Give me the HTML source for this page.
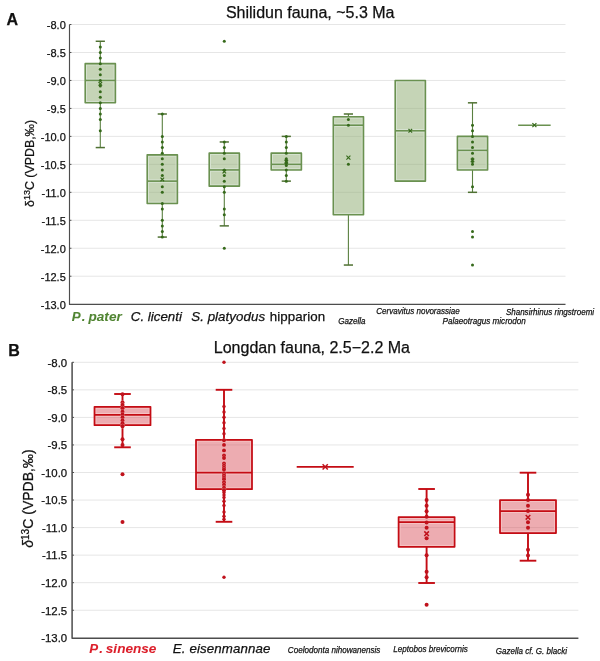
<!DOCTYPE html>
<html><head><meta charset="utf-8"><title>Carbon isotope box plots</title>
<style>
html,body{margin:0;padding:0;background:#fff;}
body{width:600px;height:661px;overflow:hidden;}
svg{display:block;font-family:"Liberation Sans",Arial,sans-serif;will-change:transform;}
</style></head>
<body>
<svg width="600" height="661" viewBox="0 0 600 661">
<rect width="600" height="661" fill="#fff"/>
<line x1="72" y1="24.5" x2="565.5" y2="24.5" stroke="#e6e6e6" stroke-width="1"/>
<line x1="72" y1="52.47" x2="565.5" y2="52.47" stroke="#e6e6e6" stroke-width="1"/>
<line x1="72" y1="80.44" x2="565.5" y2="80.44" stroke="#e6e6e6" stroke-width="1"/>
<line x1="72" y1="108.41" x2="565.5" y2="108.41" stroke="#e6e6e6" stroke-width="1"/>
<line x1="72" y1="136.38" x2="565.5" y2="136.38" stroke="#e6e6e6" stroke-width="1"/>
<line x1="72" y1="164.35" x2="565.5" y2="164.35" stroke="#e6e6e6" stroke-width="1"/>
<line x1="72" y1="192.32" x2="565.5" y2="192.32" stroke="#e6e6e6" stroke-width="1"/>
<line x1="72" y1="220.29" x2="565.5" y2="220.29" stroke="#e6e6e6" stroke-width="1"/>
<line x1="72" y1="248.26" x2="565.5" y2="248.26" stroke="#e6e6e6" stroke-width="1"/>
<line x1="72" y1="276.23" x2="565.5" y2="276.23" stroke="#e6e6e6" stroke-width="1"/>
<line x1="100.3" y1="41.28" x2="100.3" y2="63.66" stroke="#5a8040" stroke-width="1.1"/>
<line x1="95.7" y1="41.28" x2="104.9" y2="41.28" stroke="#4f7132" stroke-width="1.5"/>
<line x1="100.3" y1="102.82" x2="100.3" y2="147.57" stroke="#5a8040" stroke-width="1.1"/>
<line x1="95.7" y1="147.57" x2="104.9" y2="147.57" stroke="#4f7132" stroke-width="1.5"/>
<rect x="85.2" y="63.66" width="30.2" height="39.16" fill="rgba(140,170,110,0.50)"/>
<rect x="86.5" y="64.96" width="27.6" height="36.56" fill="none" stroke="#d6e2d0" stroke-width="1"/>
<line x1="85.2" y1="80.44" x2="115.4" y2="80.44" stroke="#d6e2d0" stroke-width="3.6"/>
<line x1="85.2" y1="80.44" x2="115.4" y2="80.44" stroke="#6a9150" stroke-width="1.6"/>
<rect x="85.2" y="63.66" width="30.2" height="39.16" fill="none" stroke="#6a9150" stroke-width="1.6" stroke-linejoin="round"/>
<circle cx="100.3" cy="46.88" r="1.5" fill="#35691a"/>
<circle cx="100.3" cy="52.47" r="1.5" fill="#35691a"/>
<circle cx="100.3" cy="58.06" r="1.5" fill="#35691a"/>
<circle cx="100.3" cy="63.66" r="1.5" fill="#35691a"/>
<circle cx="100.3" cy="69.25" r="1.5" fill="#35691a"/>
<circle cx="100.3" cy="74.85" r="1.5" fill="#35691a"/>
<circle cx="100.3" cy="80.44" r="1.5" fill="#35691a"/>
<circle cx="100.3" cy="86.03" r="1.5" fill="#35691a"/>
<circle cx="100.3" cy="91.63" r="1.5" fill="#35691a"/>
<circle cx="100.3" cy="97.22" r="1.5" fill="#35691a"/>
<circle cx="100.3" cy="102.82" r="1.5" fill="#35691a"/>
<circle cx="100.3" cy="108.41" r="1.5" fill="#35691a"/>
<circle cx="100.3" cy="114" r="1.5" fill="#35691a"/>
<circle cx="100.3" cy="119.6" r="1.5" fill="#35691a"/>
<circle cx="100.3" cy="130.79" r="1.5" fill="#35691a"/>
<path d="M98.5 82L102.1 85.6M98.5 85.6L102.1 82" stroke="#35691a" stroke-width="1.1" fill="none"/>
<line x1="162.3" y1="114" x2="162.3" y2="154.84" stroke="#5a8040" stroke-width="1.1"/>
<line x1="157.7" y1="114" x2="166.9" y2="114" stroke="#4f7132" stroke-width="1.5"/>
<line x1="162.3" y1="203.51" x2="162.3" y2="237.07" stroke="#5a8040" stroke-width="1.1"/>
<line x1="157.7" y1="237.07" x2="166.9" y2="237.07" stroke="#4f7132" stroke-width="1.5"/>
<rect x="147.2" y="154.84" width="30.2" height="48.67" fill="rgba(140,170,110,0.50)"/>
<rect x="148.5" y="156.14" width="27.6" height="46.07" fill="none" stroke="#d6e2d0" stroke-width="1"/>
<line x1="147.2" y1="181.13" x2="177.4" y2="181.13" stroke="#d6e2d0" stroke-width="3.6"/>
<line x1="147.2" y1="181.13" x2="177.4" y2="181.13" stroke="#6a9150" stroke-width="1.6"/>
<rect x="147.2" y="154.84" width="30.2" height="48.67" fill="none" stroke="#6a9150" stroke-width="1.6" stroke-linejoin="round"/>
<circle cx="162.3" cy="114" r="1.5" fill="#35691a"/>
<circle cx="162.3" cy="136.38" r="1.5" fill="#35691a"/>
<circle cx="162.3" cy="141.97" r="1.5" fill="#35691a"/>
<circle cx="162.3" cy="147.57" r="1.5" fill="#35691a"/>
<circle cx="162.3" cy="153.16" r="1.5" fill="#35691a"/>
<circle cx="162.3" cy="158.76" r="1.5" fill="#35691a"/>
<circle cx="162.3" cy="164.35" r="1.5" fill="#35691a"/>
<circle cx="162.3" cy="169.94" r="1.5" fill="#35691a"/>
<circle cx="162.3" cy="175.54" r="1.5" fill="#35691a"/>
<circle cx="162.3" cy="186.73" r="1.5" fill="#35691a"/>
<circle cx="162.3" cy="192.32" r="1.5" fill="#35691a"/>
<circle cx="162.3" cy="203.51" r="1.5" fill="#35691a"/>
<circle cx="162.3" cy="209.1" r="1.5" fill="#35691a"/>
<circle cx="162.3" cy="220.29" r="1.5" fill="#35691a"/>
<circle cx="162.3" cy="225.88" r="1.5" fill="#35691a"/>
<circle cx="162.3" cy="231.48" r="1.5" fill="#35691a"/>
<circle cx="162.3" cy="237.07" r="1.5" fill="#35691a"/>
<path d="M160.5 177.65L164.1 181.25M160.5 181.25L164.1 177.65" stroke="#35691a" stroke-width="1.1" fill="none"/>
<line x1="224.3" y1="141.97" x2="224.3" y2="153.16" stroke="#5a8040" stroke-width="1.1"/>
<line x1="219.7" y1="141.97" x2="228.9" y2="141.97" stroke="#4f7132" stroke-width="1.5"/>
<line x1="224.3" y1="186.17" x2="224.3" y2="225.88" stroke="#5a8040" stroke-width="1.1"/>
<line x1="219.7" y1="225.88" x2="228.9" y2="225.88" stroke="#4f7132" stroke-width="1.5"/>
<rect x="209.2" y="153.16" width="30.2" height="33" fill="rgba(140,170,110,0.50)"/>
<rect x="210.5" y="154.46" width="27.6" height="30.4" fill="none" stroke="#d6e2d0" stroke-width="1"/>
<line x1="209.2" y1="169.94" x2="239.4" y2="169.94" stroke="#d6e2d0" stroke-width="3.6"/>
<line x1="209.2" y1="169.94" x2="239.4" y2="169.94" stroke="#6a9150" stroke-width="1.6"/>
<rect x="209.2" y="153.16" width="30.2" height="33" fill="none" stroke="#6a9150" stroke-width="1.6" stroke-linejoin="round"/>
<circle cx="224.3" cy="41.28" r="1.5" fill="#35691a"/>
<circle cx="224.3" cy="141.97" r="1.5" fill="#35691a"/>
<circle cx="224.3" cy="147.57" r="1.5" fill="#35691a"/>
<circle cx="224.3" cy="153.16" r="1.5" fill="#35691a"/>
<circle cx="224.3" cy="158.76" r="1.5" fill="#35691a"/>
<circle cx="224.3" cy="169.94" r="1.5" fill="#35691a"/>
<circle cx="224.3" cy="175.54" r="1.5" fill="#35691a"/>
<circle cx="224.3" cy="181.13" r="1.5" fill="#35691a"/>
<circle cx="224.3" cy="186.73" r="1.5" fill="#35691a"/>
<circle cx="224.3" cy="192.32" r="1.5" fill="#35691a"/>
<circle cx="224.3" cy="209.1" r="1.5" fill="#35691a"/>
<circle cx="224.3" cy="214.7" r="1.5" fill="#35691a"/>
<circle cx="224.3" cy="248.26" r="1.5" fill="#35691a"/>
<path d="M222.5 169.82L226.1 173.42M222.5 173.42L226.1 169.82" stroke="#35691a" stroke-width="1.1" fill="none"/>
<line x1="286.3" y1="136.38" x2="286.3" y2="153.16" stroke="#5a8040" stroke-width="1.1"/>
<line x1="281.7" y1="136.38" x2="290.9" y2="136.38" stroke="#4f7132" stroke-width="1.5"/>
<line x1="286.3" y1="169.94" x2="286.3" y2="181.13" stroke="#5a8040" stroke-width="1.1"/>
<line x1="281.7" y1="181.13" x2="290.9" y2="181.13" stroke="#4f7132" stroke-width="1.5"/>
<rect x="271.2" y="153.16" width="30.2" height="16.78" fill="rgba(140,170,110,0.50)"/>
<rect x="272.5" y="154.46" width="27.6" height="14.18" fill="none" stroke="#d6e2d0" stroke-width="1"/>
<line x1="271.2" y1="164.35" x2="301.4" y2="164.35" stroke="#d6e2d0" stroke-width="3.6"/>
<line x1="271.2" y1="164.35" x2="301.4" y2="164.35" stroke="#6a9150" stroke-width="1.6"/>
<rect x="271.2" y="153.16" width="30.2" height="16.78" fill="none" stroke="#6a9150" stroke-width="1.6" stroke-linejoin="round"/>
<circle cx="286.3" cy="136.38" r="1.5" fill="#35691a"/>
<circle cx="286.3" cy="141.97" r="1.5" fill="#35691a"/>
<circle cx="286.3" cy="147.57" r="1.5" fill="#35691a"/>
<circle cx="286.3" cy="153.16" r="1.5" fill="#35691a"/>
<circle cx="286.3" cy="158.76" r="1.5" fill="#35691a"/>
<circle cx="286.3" cy="160.99" r="1.5" fill="#35691a"/>
<circle cx="286.3" cy="163.23" r="1.5" fill="#35691a"/>
<circle cx="286.3" cy="165.47" r="1.5" fill="#35691a"/>
<circle cx="286.3" cy="169.94" r="1.5" fill="#35691a"/>
<circle cx="286.3" cy="175.54" r="1.5" fill="#35691a"/>
<circle cx="286.3" cy="181.13" r="1.5" fill="#35691a"/>
<path d="M284.5 159.75L288.1 163.35M284.5 163.35L288.1 159.75" stroke="#35691a" stroke-width="1.1" fill="none"/>
<line x1="348.4" y1="114" x2="348.4" y2="116.8" stroke="#5a8040" stroke-width="1.1"/>
<line x1="343.8" y1="114" x2="353" y2="114" stroke="#4f7132" stroke-width="1.5"/>
<line x1="348.4" y1="214.7" x2="348.4" y2="265.04" stroke="#5a8040" stroke-width="1.1"/>
<line x1="343.8" y1="265.04" x2="353" y2="265.04" stroke="#4f7132" stroke-width="1.5"/>
<rect x="333.3" y="116.8" width="30.2" height="97.89" fill="rgba(140,170,110,0.50)"/>
<rect x="334.6" y="118.1" width="27.6" height="95.29" fill="none" stroke="#d6e2d0" stroke-width="1"/>
<line x1="333.3" y1="125.19" x2="363.5" y2="125.19" stroke="#d6e2d0" stroke-width="3.6"/>
<line x1="333.3" y1="125.19" x2="363.5" y2="125.19" stroke="#6a9150" stroke-width="1.6"/>
<rect x="333.3" y="116.8" width="30.2" height="97.89" fill="none" stroke="#6a9150" stroke-width="1.6" stroke-linejoin="round"/>
<circle cx="348.4" cy="119.6" r="1.5" fill="#35691a"/>
<circle cx="348.4" cy="125.19" r="1.5" fill="#35691a"/>
<circle cx="348.4" cy="164.35" r="1.5" fill="#35691a"/>
<path d="M346.4 155.64L350.4 159.64M346.4 159.64L350.4 155.64" stroke="#35691a" stroke-width="1.1" fill="none"/>
<rect x="395.2" y="80.44" width="30.2" height="100.69" fill="rgba(140,170,110,0.50)"/>
<rect x="396.5" y="81.74" width="27.6" height="98.09" fill="none" stroke="#d6e2d0" stroke-width="1"/>
<line x1="395.2" y1="130.79" x2="425.4" y2="130.79" stroke="#d6e2d0" stroke-width="3.6"/>
<line x1="395.2" y1="130.79" x2="425.4" y2="130.79" stroke="#6a9150" stroke-width="1.6"/>
<rect x="395.2" y="80.44" width="30.2" height="100.69" fill="none" stroke="#6a9150" stroke-width="1.6" stroke-linejoin="round"/>
<path d="M408.5 128.99L412.1 132.59M408.5 132.59L412.1 128.99" stroke="#35691a" stroke-width="1.1" fill="none"/>
<line x1="472.5" y1="102.82" x2="472.5" y2="136.38" stroke="#5a8040" stroke-width="1.1"/>
<line x1="467.9" y1="102.82" x2="477.1" y2="102.82" stroke="#4f7132" stroke-width="1.5"/>
<line x1="472.5" y1="169.94" x2="472.5" y2="192.32" stroke="#5a8040" stroke-width="1.1"/>
<line x1="467.9" y1="192.32" x2="477.1" y2="192.32" stroke="#4f7132" stroke-width="1.5"/>
<rect x="457.4" y="136.38" width="30.2" height="33.56" fill="rgba(140,170,110,0.50)"/>
<rect x="458.7" y="137.68" width="27.6" height="30.96" fill="none" stroke="#d6e2d0" stroke-width="1"/>
<line x1="457.4" y1="150.37" x2="487.6" y2="150.37" stroke="#d6e2d0" stroke-width="3.6"/>
<line x1="457.4" y1="150.37" x2="487.6" y2="150.37" stroke="#6a9150" stroke-width="1.6"/>
<rect x="457.4" y="136.38" width="30.2" height="33.56" fill="none" stroke="#6a9150" stroke-width="1.6" stroke-linejoin="round"/>
<circle cx="472.5" cy="125.19" r="1.5" fill="#35691a"/>
<circle cx="472.5" cy="130.79" r="1.5" fill="#35691a"/>
<circle cx="472.5" cy="136.38" r="1.5" fill="#35691a"/>
<circle cx="472.5" cy="141.97" r="1.5" fill="#35691a"/>
<circle cx="472.5" cy="147.57" r="1.5" fill="#35691a"/>
<circle cx="472.5" cy="153.16" r="1.5" fill="#35691a"/>
<circle cx="472.5" cy="158.76" r="1.5" fill="#35691a"/>
<circle cx="472.5" cy="161.55" r="1.5" fill="#35691a"/>
<circle cx="472.5" cy="164.35" r="1.5" fill="#35691a"/>
<circle cx="472.5" cy="186.73" r="1.5" fill="#35691a"/>
<circle cx="472.5" cy="231.48" r="1.5" fill="#35691a"/>
<circle cx="472.5" cy="237.07" r="1.5" fill="#35691a"/>
<circle cx="472.5" cy="265.04" r="1.5" fill="#35691a"/>
<path d="M470.7 158.63L474.3 162.23M470.7 162.23L474.3 158.63" stroke="#35691a" stroke-width="1.1" fill="none"/>
<line x1="518.15" y1="125.19" x2="550.65" y2="125.19" stroke="#6a9150" stroke-width="1.6"/>
<path d="M532.4 123.19L536.4 127.19M532.4 127.19L536.4 123.19" stroke="#35691a" stroke-width="1.2" fill="none"/>
<path d="M69.5 24.5V304.4H565.5" fill="none" stroke="#4d4d4d" stroke-width="1.15" stroke-linejoin="round"/>
<line x1="69.5" y1="24.5" x2="71.5" y2="24.5" stroke="#4d4d4d" stroke-width="1"/>
<line x1="69.5" y1="52.47" x2="71.5" y2="52.47" stroke="#4d4d4d" stroke-width="1"/>
<line x1="69.5" y1="80.44" x2="71.5" y2="80.44" stroke="#4d4d4d" stroke-width="1"/>
<line x1="69.5" y1="108.41" x2="71.5" y2="108.41" stroke="#4d4d4d" stroke-width="1"/>
<line x1="69.5" y1="136.38" x2="71.5" y2="136.38" stroke="#4d4d4d" stroke-width="1"/>
<line x1="69.5" y1="164.35" x2="71.5" y2="164.35" stroke="#4d4d4d" stroke-width="1"/>
<line x1="69.5" y1="192.32" x2="71.5" y2="192.32" stroke="#4d4d4d" stroke-width="1"/>
<line x1="69.5" y1="220.29" x2="71.5" y2="220.29" stroke="#4d4d4d" stroke-width="1"/>
<line x1="69.5" y1="248.26" x2="71.5" y2="248.26" stroke="#4d4d4d" stroke-width="1"/>
<line x1="69.5" y1="276.23" x2="71.5" y2="276.23" stroke="#4d4d4d" stroke-width="1"/>
<text x="65.8" y="29.3" font-size="11" text-anchor="end" font-weight="normal" font-style="normal" fill="#111111" stroke="#111111" stroke-width="0.25">-8.0</text>
<text x="65.8" y="57.27" font-size="11" text-anchor="end" font-weight="normal" font-style="normal" fill="#111111" stroke="#111111" stroke-width="0.25">-8.5</text>
<text x="65.8" y="85.24" font-size="11" text-anchor="end" font-weight="normal" font-style="normal" fill="#111111" stroke="#111111" stroke-width="0.25">-9.0</text>
<text x="65.8" y="113.21" font-size="11" text-anchor="end" font-weight="normal" font-style="normal" fill="#111111" stroke="#111111" stroke-width="0.25">-9.5</text>
<text x="65.8" y="141.18" font-size="11" text-anchor="end" font-weight="normal" font-style="normal" fill="#111111" stroke="#111111" stroke-width="0.25">-10.0</text>
<text x="65.8" y="169.15" font-size="11" text-anchor="end" font-weight="normal" font-style="normal" fill="#111111" stroke="#111111" stroke-width="0.25">-10.5</text>
<text x="65.8" y="197.12" font-size="11" text-anchor="end" font-weight="normal" font-style="normal" fill="#111111" stroke="#111111" stroke-width="0.25">-11.0</text>
<text x="65.8" y="225.09" font-size="11" text-anchor="end" font-weight="normal" font-style="normal" fill="#111111" stroke="#111111" stroke-width="0.25">-11.5</text>
<text x="65.8" y="253.06" font-size="11" text-anchor="end" font-weight="normal" font-style="normal" fill="#111111" stroke="#111111" stroke-width="0.25">-12.0</text>
<text x="65.8" y="281.03" font-size="11" text-anchor="end" font-weight="normal" font-style="normal" fill="#111111" stroke="#111111" stroke-width="0.25">-12.5</text>
<text x="65.8" y="309" font-size="11" text-anchor="end" font-weight="normal" font-style="normal" fill="#111111" stroke="#111111" stroke-width="0.25">-13.0</text>
<line x1="74.6" y1="362.3" x2="578.4" y2="362.3" stroke="#e6e6e6" stroke-width="1"/>
<line x1="74.6" y1="389.85" x2="578.4" y2="389.85" stroke="#e6e6e6" stroke-width="1"/>
<line x1="74.6" y1="417.4" x2="578.4" y2="417.4" stroke="#e6e6e6" stroke-width="1"/>
<line x1="74.6" y1="444.95" x2="578.4" y2="444.95" stroke="#e6e6e6" stroke-width="1"/>
<line x1="74.6" y1="472.5" x2="578.4" y2="472.5" stroke="#e6e6e6" stroke-width="1"/>
<line x1="74.6" y1="500.05" x2="578.4" y2="500.05" stroke="#e6e6e6" stroke-width="1"/>
<line x1="74.6" y1="527.6" x2="578.4" y2="527.6" stroke="#e6e6e6" stroke-width="1"/>
<line x1="74.6" y1="555.15" x2="578.4" y2="555.15" stroke="#e6e6e6" stroke-width="1"/>
<line x1="74.6" y1="582.7" x2="578.4" y2="582.7" stroke="#e6e6e6" stroke-width="1"/>
<line x1="74.6" y1="610.25" x2="578.4" y2="610.25" stroke="#e6e6e6" stroke-width="1"/>
<line x1="122.5" y1="394" x2="122.5" y2="406.8" stroke="#c40c14" stroke-width="1.9"/>
<line x1="114.2" y1="394" x2="130.8" y2="394" stroke="#c40c14" stroke-width="1.9"/>
<line x1="122.5" y1="425.2" x2="122.5" y2="447.3" stroke="#c40c14" stroke-width="1.9"/>
<line x1="114.2" y1="447.3" x2="130.8" y2="447.3" stroke="#c40c14" stroke-width="1.9"/>
<rect x="94.5" y="406.8" width="56" height="18.4" fill="rgba(214,70,82,0.45)"/>
<rect x="95.88" y="408.18" width="53.25" height="15.65" fill="none" stroke="#f6c3c4" stroke-width="1"/>
<line x1="94.5" y1="414.9" x2="150.5" y2="414.9" stroke="#f6c3c4" stroke-width="3.75"/>
<line x1="94.5" y1="414.9" x2="150.5" y2="414.9" stroke="#c40c14" stroke-width="1.75"/>
<rect x="94.5" y="406.8" width="56" height="18.4" fill="none" stroke="#c40c14" stroke-width="1.75" stroke-linejoin="round"/>
<circle cx="122.5" cy="394.3" r="2.0" fill="#c0121c"/>
<circle cx="122.5" cy="439.3" r="2.0" fill="#c0121c"/>
<circle cx="122.5" cy="445.1" r="2.0" fill="#c0121c"/>
<circle cx="122.5" cy="474.3" r="2.0" fill="#c0121c"/>
<circle cx="122.5" cy="522" r="2.0" fill="#c0121c"/>
<circle cx="122.5" cy="402.5" r="2.0" fill="#c0121c" stroke="rgba(250,210,210,0.6)" stroke-width="0.7" paint-order="stroke"/>
<circle cx="122.5" cy="404.9" r="2.0" fill="#c0121c" stroke="rgba(250,210,210,0.6)" stroke-width="0.7" paint-order="stroke"/>
<circle cx="122.5" cy="408.3" r="2.0" fill="#c0121c" stroke="rgba(250,210,210,0.6)" stroke-width="0.7" paint-order="stroke"/>
<circle cx="122.5" cy="411.7" r="2.0" fill="#c0121c" stroke="rgba(250,210,210,0.6)" stroke-width="0.7" paint-order="stroke"/>
<circle cx="122.5" cy="414.6" r="2.0" fill="#c0121c" stroke="rgba(250,210,210,0.6)" stroke-width="0.7" paint-order="stroke"/>
<circle cx="122.5" cy="417.5" r="2.0" fill="#c0121c" stroke="rgba(250,210,210,0.6)" stroke-width="0.7" paint-order="stroke"/>
<circle cx="122.5" cy="420.4" r="2.0" fill="#c0121c" stroke="rgba(250,210,210,0.6)" stroke-width="0.7" paint-order="stroke"/>
<circle cx="122.5" cy="423.3" r="2.0" fill="#c0121c" stroke="rgba(250,210,210,0.6)" stroke-width="0.7" paint-order="stroke"/>
<circle cx="122.5" cy="426.2" r="2.0" fill="#c0121c" stroke="rgba(250,210,210,0.6)" stroke-width="0.7" paint-order="stroke"/>
<line x1="224" y1="389.8" x2="224" y2="439.8" stroke="#c40c14" stroke-width="1.9"/>
<line x1="215.7" y1="389.8" x2="232.3" y2="389.8" stroke="#c40c14" stroke-width="1.9"/>
<line x1="224" y1="489.2" x2="224" y2="521.8" stroke="#c40c14" stroke-width="1.9"/>
<line x1="215.7" y1="521.8" x2="232.3" y2="521.8" stroke="#c40c14" stroke-width="1.9"/>
<rect x="196" y="439.8" width="56" height="49.4" fill="rgba(214,70,82,0.45)"/>
<rect x="197.38" y="441.18" width="53.25" height="46.65" fill="none" stroke="#f6c3c4" stroke-width="1"/>
<line x1="196" y1="472.5" x2="252" y2="472.5" stroke="#f6c3c4" stroke-width="3.75"/>
<line x1="196" y1="472.5" x2="252" y2="472.5" stroke="#c40c14" stroke-width="1.75"/>
<rect x="196" y="439.8" width="56" height="49.4" fill="none" stroke="#c40c14" stroke-width="1.75" stroke-linejoin="round"/>
<circle cx="224" cy="362.2" r="1.7" fill="#c0121c"/>
<circle cx="224" cy="406.4" r="1.7" fill="#c0121c"/>
<circle cx="224" cy="412" r="1.7" fill="#c0121c"/>
<circle cx="224" cy="417.2" r="1.7" fill="#c0121c"/>
<circle cx="224" cy="422.8" r="1.7" fill="#c0121c"/>
<circle cx="224" cy="428.5" r="1.7" fill="#c0121c"/>
<circle cx="224" cy="433.7" r="1.7" fill="#c0121c"/>
<circle cx="224" cy="440.2" r="1.95" fill="#c0121c" stroke="rgba(250,210,210,0.6)" stroke-width="0.7" paint-order="stroke"/>
<circle cx="224" cy="444.9" r="1.95" fill="#c0121c" stroke="rgba(250,210,210,0.6)" stroke-width="0.7" paint-order="stroke"/>
<circle cx="224" cy="450.4" r="1.95" fill="#c0121c" stroke="rgba(250,210,210,0.6)" stroke-width="0.7" paint-order="stroke"/>
<circle cx="224" cy="455.5" r="1.95" fill="#c0121c" stroke="rgba(250,210,210,0.6)" stroke-width="0.7" paint-order="stroke"/>
<circle cx="224" cy="458" r="1.95" fill="#c0121c" stroke="rgba(250,210,210,0.6)" stroke-width="0.7" paint-order="stroke"/>
<circle cx="224" cy="463.5" r="1.95" fill="#c0121c" stroke="rgba(250,210,210,0.6)" stroke-width="0.7" paint-order="stroke"/>
<circle cx="224" cy="465.7" r="1.95" fill="#c0121c" stroke="rgba(250,210,210,0.6)" stroke-width="0.7" paint-order="stroke"/>
<circle cx="224" cy="467.8" r="1.95" fill="#c0121c" stroke="rgba(250,210,210,0.6)" stroke-width="0.7" paint-order="stroke"/>
<circle cx="224" cy="469.5" r="1.95" fill="#c0121c" stroke="rgba(250,210,210,0.6)" stroke-width="0.7" paint-order="stroke"/>
<circle cx="224" cy="473.3" r="1.95" fill="#c0121c" stroke="rgba(250,210,210,0.6)" stroke-width="0.7" paint-order="stroke"/>
<circle cx="224" cy="475.4" r="1.95" fill="#c0121c" stroke="rgba(250,210,210,0.6)" stroke-width="0.7" paint-order="stroke"/>
<circle cx="224" cy="477.5" r="1.95" fill="#c0121c" stroke="rgba(250,210,210,0.6)" stroke-width="0.7" paint-order="stroke"/>
<circle cx="224" cy="479.2" r="1.95" fill="#c0121c" stroke="rgba(250,210,210,0.6)" stroke-width="0.7" paint-order="stroke"/>
<circle cx="224" cy="482.2" r="1.95" fill="#c0121c" stroke="rgba(250,210,210,0.6)" stroke-width="0.7" paint-order="stroke"/>
<circle cx="224" cy="484.7" r="1.95" fill="#c0121c" stroke="rgba(250,210,210,0.6)" stroke-width="0.7" paint-order="stroke"/>
<circle cx="224" cy="487.7" r="1.95" fill="#c0121c" stroke="rgba(250,210,210,0.6)" stroke-width="0.7" paint-order="stroke"/>
<circle cx="224" cy="490.2" r="1.95" fill="#c0121c" stroke="rgba(250,210,210,0.6)" stroke-width="0.7" paint-order="stroke"/>
<circle cx="224" cy="492.5" r="1.7" fill="#c0121c"/>
<circle cx="224" cy="495" r="1.7" fill="#c0121c"/>
<circle cx="224" cy="497.5" r="1.7" fill="#c0121c"/>
<circle cx="224" cy="501.2" r="1.7" fill="#c0121c"/>
<circle cx="224" cy="505.4" r="1.7" fill="#c0121c"/>
<circle cx="224" cy="512" r="1.7" fill="#c0121c"/>
<circle cx="224" cy="516.3" r="1.7" fill="#c0121c"/>
<circle cx="224" cy="519.3" r="1.7" fill="#c0121c"/>
<circle cx="224" cy="577.2" r="1.7" fill="#c0121c"/>
<line x1="296.7" y1="466.9" x2="353.7" y2="466.9" stroke="#c40c14" stroke-width="1.75"/>
<path d="M322.6 464.3L327.8 469.5M322.6 469.5L327.8 464.3" stroke="#c0121c" stroke-width="1.5" fill="none"/>
<line x1="426.6" y1="489" x2="426.6" y2="517" stroke="#c40c14" stroke-width="1.9"/>
<line x1="418.3" y1="489" x2="434.9" y2="489" stroke="#c40c14" stroke-width="1.9"/>
<line x1="426.6" y1="546.8" x2="426.6" y2="583" stroke="#c40c14" stroke-width="1.9"/>
<line x1="418.3" y1="583" x2="434.9" y2="583" stroke="#c40c14" stroke-width="1.9"/>
<rect x="398.6" y="517" width="56" height="29.8" fill="rgba(214,70,82,0.45)"/>
<rect x="399.98" y="518.38" width="53.25" height="27.05" fill="none" stroke="#f6c3c4" stroke-width="1"/>
<line x1="398.6" y1="522.2" x2="454.6" y2="522.2" stroke="#f6c3c4" stroke-width="3.75"/>
<line x1="398.6" y1="522.2" x2="454.6" y2="522.2" stroke="#c40c14" stroke-width="1.75"/>
<rect x="398.6" y="517" width="56" height="29.8" fill="none" stroke="#c40c14" stroke-width="1.75" stroke-linejoin="round"/>
<circle cx="426.6" cy="500.1" r="2.0" fill="#c0121c"/>
<circle cx="426.6" cy="505.7" r="2.0" fill="#c0121c"/>
<circle cx="426.6" cy="511.3" r="2.0" fill="#c0121c"/>
<circle cx="426.6" cy="516.8" r="2.0" fill="#c0121c"/>
<circle cx="426.6" cy="522.4" r="2.0" fill="#c0121c"/>
<circle cx="426.6" cy="527.8" r="2.0" fill="#c0121c"/>
<circle cx="426.6" cy="538.3" r="2.0" fill="#c0121c"/>
<circle cx="426.6" cy="555.2" r="2.0" fill="#c0121c"/>
<circle cx="426.6" cy="571.7" r="2.0" fill="#c0121c"/>
<circle cx="426.6" cy="577.3" r="2.0" fill="#c0121c"/>
<circle cx="426.6" cy="604.8" r="2.0" fill="#c0121c"/>
<path d="M424.3 531.4L428.9 536M424.3 536L428.9 531.4" stroke="#c0121c" stroke-width="1.5" fill="none"/>
<line x1="528" y1="472.7" x2="528" y2="500" stroke="#c40c14" stroke-width="1.9"/>
<line x1="519.7" y1="472.7" x2="536.3" y2="472.7" stroke="#c40c14" stroke-width="1.9"/>
<line x1="528" y1="533" x2="528" y2="560.7" stroke="#c40c14" stroke-width="1.9"/>
<line x1="519.7" y1="560.7" x2="536.3" y2="560.7" stroke="#c40c14" stroke-width="1.9"/>
<rect x="500" y="500" width="56" height="33" fill="rgba(214,70,82,0.45)"/>
<rect x="501.38" y="501.38" width="53.25" height="30.25" fill="none" stroke="#f6c3c4" stroke-width="1"/>
<line x1="500" y1="511" x2="556" y2="511" stroke="#f6c3c4" stroke-width="3.75"/>
<line x1="500" y1="511" x2="556" y2="511" stroke="#c40c14" stroke-width="1.75"/>
<rect x="500" y="500" width="56" height="33" fill="none" stroke="#c40c14" stroke-width="1.75" stroke-linejoin="round"/>
<circle cx="528" cy="494.7" r="2.0" fill="#c0121c"/>
<circle cx="528" cy="500" r="2.0" fill="#c0121c"/>
<circle cx="528" cy="505.7" r="2.0" fill="#c0121c"/>
<circle cx="528" cy="511" r="2.0" fill="#c0121c"/>
<circle cx="528" cy="522.3" r="2.0" fill="#c0121c"/>
<circle cx="528" cy="527.7" r="2.0" fill="#c0121c"/>
<circle cx="528" cy="549.7" r="2.0" fill="#c0121c"/>
<circle cx="528" cy="555.4" r="2.0" fill="#c0121c"/>
<path d="M525.7 515L530.3 519.6M525.7 519.6L530.3 515" stroke="#c0121c" stroke-width="1.5" fill="none"/>
<path d="M72.1 362.3V638.35H578.4" fill="none" stroke="#4d4d4d" stroke-width="1.5" stroke-linejoin="round"/>
<line x1="72.1" y1="362.3" x2="74.1" y2="362.3" stroke="#4d4d4d" stroke-width="1"/>
<line x1="72.1" y1="389.85" x2="74.1" y2="389.85" stroke="#4d4d4d" stroke-width="1"/>
<line x1="72.1" y1="417.4" x2="74.1" y2="417.4" stroke="#4d4d4d" stroke-width="1"/>
<line x1="72.1" y1="444.95" x2="74.1" y2="444.95" stroke="#4d4d4d" stroke-width="1"/>
<line x1="72.1" y1="472.5" x2="74.1" y2="472.5" stroke="#4d4d4d" stroke-width="1"/>
<line x1="72.1" y1="500.05" x2="74.1" y2="500.05" stroke="#4d4d4d" stroke-width="1"/>
<line x1="72.1" y1="527.6" x2="74.1" y2="527.6" stroke="#4d4d4d" stroke-width="1"/>
<line x1="72.1" y1="555.15" x2="74.1" y2="555.15" stroke="#4d4d4d" stroke-width="1"/>
<line x1="72.1" y1="582.7" x2="74.1" y2="582.7" stroke="#4d4d4d" stroke-width="1"/>
<line x1="72.1" y1="610.25" x2="74.1" y2="610.25" stroke="#4d4d4d" stroke-width="1"/>
<text x="67.2" y="366.6" font-size="11.4" text-anchor="end" font-weight="normal" font-style="normal" fill="#111111" stroke="#111111" stroke-width="0.25">-8.0</text>
<text x="67.2" y="394.15" font-size="11.4" text-anchor="end" font-weight="normal" font-style="normal" fill="#111111" stroke="#111111" stroke-width="0.25">-8.5</text>
<text x="67.2" y="421.7" font-size="11.4" text-anchor="end" font-weight="normal" font-style="normal" fill="#111111" stroke="#111111" stroke-width="0.25">-9.0</text>
<text x="67.2" y="449.25" font-size="11.4" text-anchor="end" font-weight="normal" font-style="normal" fill="#111111" stroke="#111111" stroke-width="0.25">-9.5</text>
<text x="67.2" y="476.8" font-size="11.4" text-anchor="end" font-weight="normal" font-style="normal" fill="#111111" stroke="#111111" stroke-width="0.25">-10.0</text>
<text x="67.2" y="504.35" font-size="11.4" text-anchor="end" font-weight="normal" font-style="normal" fill="#111111" stroke="#111111" stroke-width="0.25">-10.5</text>
<text x="67.2" y="531.9" font-size="11.4" text-anchor="end" font-weight="normal" font-style="normal" fill="#111111" stroke="#111111" stroke-width="0.25">-11.0</text>
<text x="67.2" y="559.45" font-size="11.4" text-anchor="end" font-weight="normal" font-style="normal" fill="#111111" stroke="#111111" stroke-width="0.25">-11.5</text>
<text x="67.2" y="587" font-size="11.4" text-anchor="end" font-weight="normal" font-style="normal" fill="#111111" stroke="#111111" stroke-width="0.25">-12.0</text>
<text x="67.2" y="614.55" font-size="11.4" text-anchor="end" font-weight="normal" font-style="normal" fill="#111111" stroke="#111111" stroke-width="0.25">-12.5</text>
<text x="67.2" y="642.1" font-size="11.4" text-anchor="end" font-weight="normal" font-style="normal" fill="#111111" stroke="#111111" stroke-width="0.25">-13.0</text>
<text x="6.4" y="25.3" font-size="16" text-anchor="start" font-weight="bold" font-style="normal" fill="#111111" stroke="#111111" stroke-width="0.25">A</text>
<text x="8.2" y="355.8" font-size="16" text-anchor="start" font-weight="bold" font-style="normal" fill="#111111" stroke="#111111" stroke-width="0.25">B</text>
<text x="225.9" y="18.2" font-size="16" text-anchor="start" font-weight="normal" font-style="normal" fill="#111111" stroke="#111111" stroke-width="0.25">Shilidun fauna, ~5.3 Ma</text>
<text x="213.8" y="353.2" font-size="16" text-anchor="start" font-weight="normal" font-style="normal" fill="#111111" stroke="#111111" stroke-width="0.25">Longdan fauna, 2.5&#8722;2.2 Ma</text>
<text transform="translate(34.2,163.4) rotate(-90)" font-size="12.4" text-anchor="middle" fill="#111111" stroke="#111111" stroke-width="0.25"><tspan>&#948;</tspan><tspan font-size="8.93" dy="-4.22">13</tspan><tspan dy="4.22">C (VPDB,&#8240;)</tspan></text>
<text transform="translate(33.4,498.6) rotate(-90)" font-size="14" text-anchor="middle" fill="#111111" stroke="#111111" stroke-width="0.25"><tspan font-style="italic">&#948;</tspan><tspan font-size="10.08" dy="-4.76">13</tspan><tspan dy="4.76">C (VPDB,&#8240;)</tspan></text>
<text x="71.72" y="320.8" font-size="13.3" font-weight="bold" font-style="italic" fill="#518533" stroke="#518533" stroke-width="0.05" textLength="13.66" lengthAdjust="spacing">P.</text>
<text x="88.5" y="320.8" font-size="13.3" font-weight="bold" font-style="italic" fill="#518533" stroke="#518533" stroke-width="0.05" textLength="33.22" lengthAdjust="spacingAndGlyphs">pater</text>
<text x="130.84" y="320.9" font-size="13.3" font-weight="normal" font-style="italic" fill="#111111" stroke="#111111" stroke-width="0.25" textLength="51.06" lengthAdjust="spacing">C. licenti</text>
<text x="191.2" y="320.9" font-size="13.3" font-weight="normal" font-style="italic" fill="#111111" stroke="#111111" stroke-width="0.25" textLength="73.86" lengthAdjust="spacing">S. platyodus</text>
<text x="269.66" y="320.9" font-size="13.3" font-weight="normal" font-style="normal" fill="#111111" stroke="#111111" stroke-width="0.25" textLength="55.5" lengthAdjust="spacing">hipparion</text>
<text x="338.28" y="323.9" font-size="9" font-weight="normal" font-style="italic" fill="#111111" stroke="#111111" stroke-width="0.25" textLength="27.32" lengthAdjust="spacingAndGlyphs">Gazella</text>
<text x="376.28" y="314.3" font-size="9" font-weight="normal" font-style="italic" fill="#111111" stroke="#111111" stroke-width="0.25" textLength="83.5" lengthAdjust="spacingAndGlyphs">Cervavitus novorassiae</text>
<text x="442.48" y="323.9" font-size="9" font-weight="normal" font-style="italic" fill="#111111" stroke="#111111" stroke-width="0.25" textLength="83.42" lengthAdjust="spacingAndGlyphs">Palaeotragus microdon</text>
<text x="505.92" y="314.8" font-size="9" font-weight="normal" font-style="italic" fill="#111111" stroke="#111111" stroke-width="0.25" textLength="88.2" lengthAdjust="spacingAndGlyphs">Shansirhinus ringstroemi</text>
<text x="89.35" y="653.2" font-size="13.3" font-weight="bold" font-style="italic" fill="#dc1f2b" stroke="#dc1f2b" stroke-width="0.05" textLength="13.66" lengthAdjust="spacing">P.</text>
<text x="105.8" y="653.2" font-size="13.3" font-weight="bold" font-style="italic" fill="#dc1f2b" stroke="#dc1f2b" stroke-width="0.05" textLength="50.62" lengthAdjust="spacingAndGlyphs">sinense</text>
<text x="172.78" y="653.4" font-size="13.3" font-weight="normal" font-style="italic" fill="#111111" stroke="#111111" stroke-width="0.25" textLength="97.62" lengthAdjust="spacing">E. eisenmannae</text>
<text x="287.84" y="652.5" font-size="9" font-weight="normal" font-style="italic" fill="#111111" stroke="#111111" stroke-width="0.25" textLength="92.54" lengthAdjust="spacingAndGlyphs">Coelodonta nihowanensis</text>
<text x="393.34" y="652.3" font-size="9" font-weight="normal" font-style="italic" fill="#111111" stroke="#111111" stroke-width="0.25" textLength="74.42" lengthAdjust="spacingAndGlyphs">Leptobos brevicornis</text>
<text x="495.78" y="653.6" font-size="9" font-weight="normal" font-style="italic" fill="#111111" stroke="#111111" stroke-width="0.25" textLength="71.24" lengthAdjust="spacingAndGlyphs">Gazella cf. G. blacki</text>
</svg>
</body></html>
